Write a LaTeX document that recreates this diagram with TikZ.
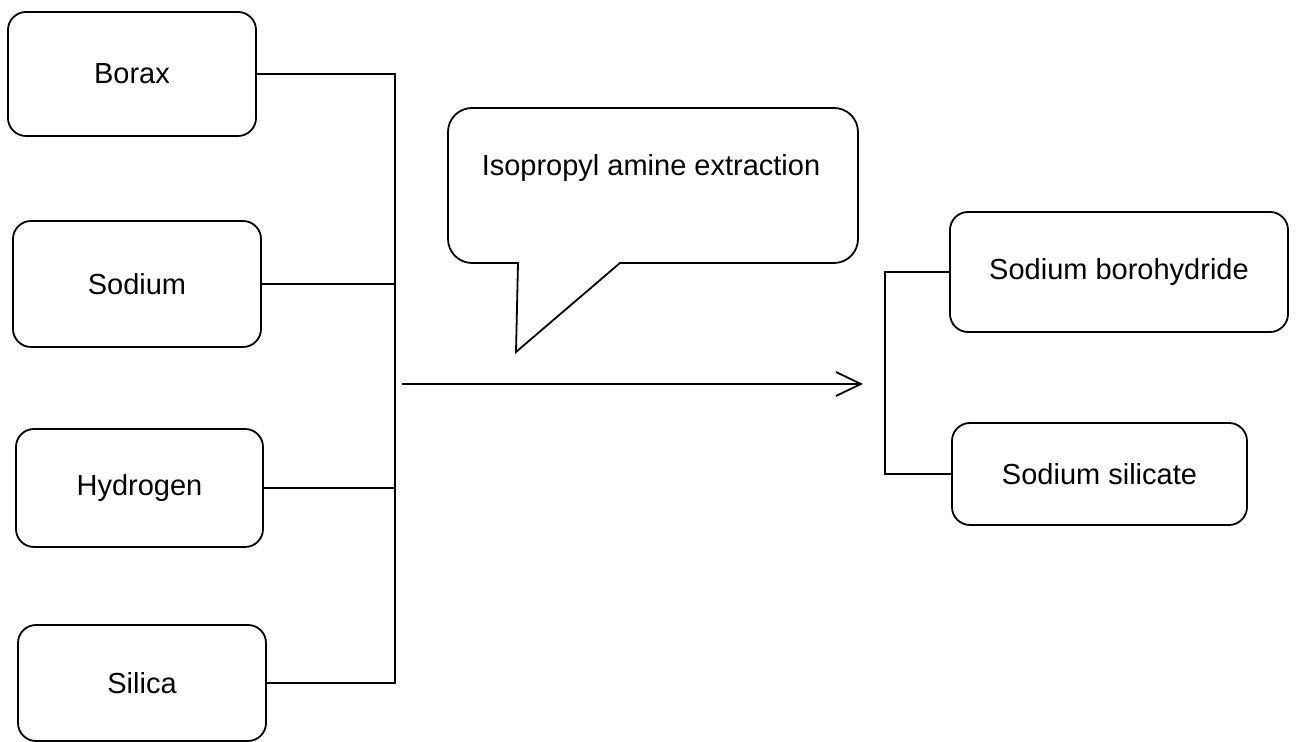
\documentclass[tikz,border=0pt]{standalone}
\usepackage{fontspec}
\setmainfont{Liberation Sans}
\usetikzlibrary{arrows.meta}

\begin{document}
\begin{tikzpicture}[x = 0.5pt, y = 0.5pt]
\tikzstyle{BoxStyle} = [draw, line width = 0.9pt, rounded corners = 9pt, inner sep = 0pt, font = \fontsize{14.5}{17}\selectfont]
\tikzstyle{EdgeStyle} = [line width = 0.9pt]
\tikzstyle{TextStyle} = [inner sep = 0pt, font = \fontsize{14.5}{17}\selectfont]
\useasboundingbox (0,0) rectangle (1297,742);
\node[BoxStyle, minimum width = 124pt, minimum height = 62pt] (borax) at (132,668) {Borax};
\node[BoxStyle, minimum width = 124pt, minimum height = 63pt] (sodium) at (137,458) {Sodium};
\node[BoxStyle, minimum width = 123.5pt, minimum height = 59pt] (hydrogen) at (139.5,254) {Hydrogen};
\node[BoxStyle, minimum width = 124pt, minimum height = 58pt] (silica) at (142,59) {Silica};
\node[BoxStyle, minimum width = 169pt, minimum height = 60pt] (boro) at (1119,470) {Sodium borohydride};
\node[BoxStyle, minimum width = 147.5pt, minimum height = 51pt] (silicate) at (1099.5,268) {Sodium silicate};
\node[TextStyle, anchor = base] (extract) at (651,566) {Isopropyl amine extraction};
\draw[EdgeStyle] (620,479) -- (834,479) arc[start angle = -90, end angle = 0, radius = 12pt]
  -- (858,610) arc[start angle = 0, end angle = 90, radius = 12pt]
  -- (472,634) arc[start angle = 90, end angle = 180, radius = 12pt]
  -- (448,503) arc[start angle = 180, end angle = 270, radius = 12pt]
  -- (518,479) -- (516,390) -- cycle;
\coordinate (ltop) at (395,668);
\coordinate (lbot) at (395,59);
\coordinate (astart) at (402,358);
\coordinate (aend) at (863,358);
\coordinate (rbus) at (885,268);
\draw[EdgeStyle] (borax.east) -- (ltop) -- (lbot) -- (silica.east);
\draw[EdgeStyle] (sodium.east) -- (sodium.east -| ltop);
\draw[EdgeStyle] (hydrogen.east) -- (hydrogen.east -| ltop);
\draw[EdgeStyle, -{Straight Barb[length = 12.5pt, width = 12pt]}] (astart) -- (aend);
\draw[EdgeStyle] (boro.west) -| (rbus) -- (silicate.west);
\end{tikzpicture}
\end{document}
